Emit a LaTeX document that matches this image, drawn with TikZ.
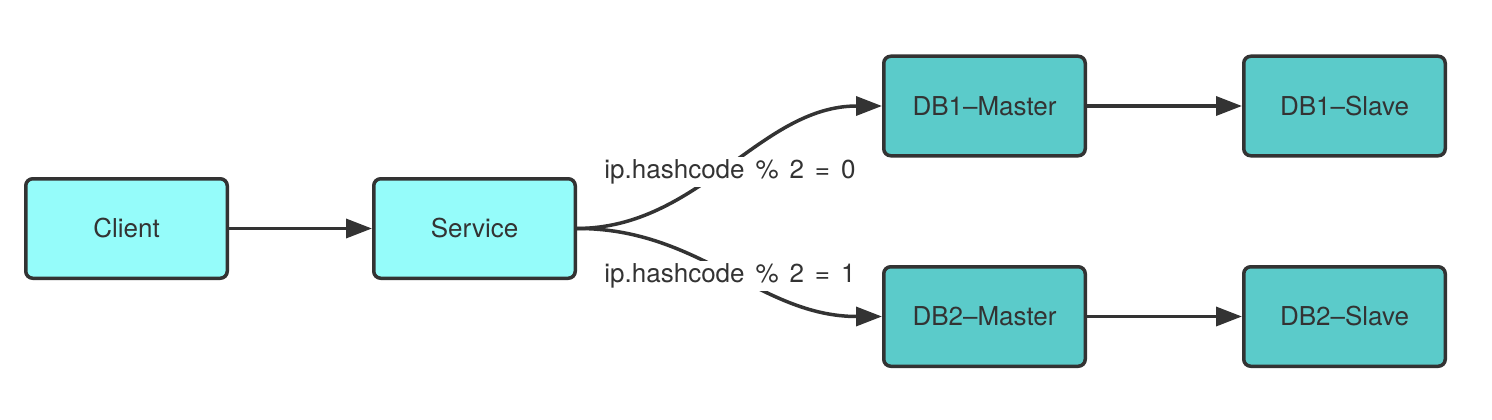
\documentclass[tikz,border=0pt]{standalone}
\usepackage{fontspec}
\setmainfont{TeX Gyre Heros}
\usetikzlibrary{arrows.meta}
\definecolor{ink}{HTML}{333333}
\definecolor{light}{HTML}{95FCFA}
\definecolor{teal}{HTML}{5BCBCA}
\newcommand{\lblfont}{\fontsize{26}{31}\selectfont\spaceskip=0.42em plus 0pt\relax}
\tikzset{
  box/.style={draw=ink, line width=3.5pt, rounded corners=7pt, minimum width=201.5pt, minimum height=99.5pt, text=ink, font=\fontsize{26}{31}\selectfont},
  lbox/.style={box, fill=light},
  dbox/.style={box, fill=teal},
  conn/.style={draw=ink, line width=3.5pt, -{Triangle[length=26pt,width=19pt]}},
  lbl/.style={fill=white, inner sep=3pt, text=ink}
}
\begin{document}
\begin{tikzpicture}[x=1pt,y=-1pt]
\useasboundingbox (0,0) rectangle (1492,420);
\node[lbox] (client) at (126.5,228.5) {Client};
\node[lbox] (service) at (474.5,228.5) {Service};
\node[dbox] (m1) at (984.5,106) {DB1–Master};
\node[dbox] (s1) at (1344.5,106) {DB1–Slave};
\node[dbox] (m2) at (984.5,316.5) {DB2–Master};
\node[dbox] (s2) at (1344.5,316.5) {DB2–Slave};
\draw[conn] (client) -- (service);
\draw[conn] (m1) -- (s1);
\draw[conn] (m2) -- (s2);
\draw[conn] (service.east) .. controls (700,228) and (760,106) .. (m1.west);
\draw[conn] (service.east) .. controls (700,228) and (760,316.5) .. (m2.west);
\node[lbl] (l0) at (730,172) {\lblfont ip.hashcode \% 2 = 0};
\node[lbl] (l1) at (730,276) {\lblfont ip.hashcode \% 2 = 1};
\end{tikzpicture}
\end{document}
